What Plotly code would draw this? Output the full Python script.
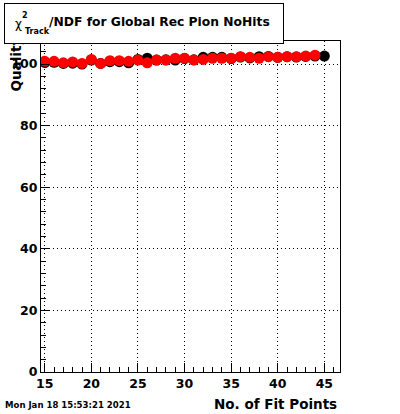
import plotly.graph_objects as go

# ---- data ----
x_black = list(range(15, 46))
y_black = [100.5, 100.6, 100.2, 100.3, 100.0, 101.3, 100.2, 100.8, 100.8, 100.4,
           101.5, 101.9, 101.3, 101.4, 101.3, 101.8, 101.4, 102.2, 102.2, 102.2,
           101.8, 102.3, 102.0, 102.4, 102.5, 102.2, 102.4, 102.3, 102.5, 102.6,
           102.6]
x_red = list(range(15, 45))
y_red = [100.9, 100.9, 100.4, 100.7, 100.2, 101.5, 100.2, 101.1, 101.1, 100.9,
         101.3, 100.4, 101.3, 101.3, 101.9, 101.9, 101.3, 101.5, 101.9, 101.9,
         101.9, 102.4, 102.2, 101.9, 102.4, 102.2, 102.4, 102.4, 102.6, 102.9]

title_main = "/NDF for Global Rec Pion NoHits"
x_title = "No. of Fit Points"
y_title = "Quality"
date_text = "Mon Jan 18 15:53:21 2021"

# ---- geometry helpers (pixel -> paper) ----
L, R, T, B = 41, 340, 41, 372
W, H = 400, 414


def px(x):
    return (x - L) / (R - L)


def py(y):
    return (B - y) / (B - T)


FONT = "DejaVu Sans"

fig = go.Figure()
fig.add_trace(go.Scatter(x=x_black, y=y_black, mode="markers",
                         marker=dict(color="black", size=11), showlegend=False))
fig.add_trace(go.Scatter(x=x_red, y=y_red, mode="markers",
                         marker=dict(color="#ff0000", size=11), showlegend=False))

axis_common = dict(
    showline=True, linecolor="black", linewidth=1, mirror=True,
    showgrid=True, gridcolor="black", griddash="1px,3px", gridwidth=1,
    ticks="inside", ticklen=9, tickcolor="black", tickwidth=1,
    zeroline=False,
    tickfont=dict(family=FONT, size=12.5, color="black", weight="bold"),
)

fig.update_xaxes(range=[14.6, 46.68], tick0=0, dtick=5,
                 minor=dict(dtick=1, tick0=0, ticks="inside", ticklen=5,
                            tickcolor="black", showgrid=False),
                 **axis_common)
fig.update_yaxes(range=[0, 107.5], tick0=0, dtick=20,
                 minor=dict(dtick=4, tick0=0, ticks="inside", ticklen=5,
                            tickcolor="black", showgrid=False),
                 **axis_common)

annotations = [
    # y axis title (partly hidden behind the title box)
    dict(text=y_title, x=px(15), y=py(94), xanchor="center", yanchor="bottom",
         textangle=-90, font=dict(family=FONT, size=13.5, color="black", weight="bold")),
    # title box
    dict(text=" ", x=px(4), y=py(3), xanchor="left", yanchor="top",
         width=278, height=39, bgcolor="white", bordercolor="black",
         borderwidth=1, borderpad=0, font=dict(size=4)),
    dict(text="χ", x=px(18.5), y=py(24), xanchor="center", yanchor="middle",
         font=dict(family=FONT, size=12, color="black")),
    dict(text="2", x=px(25), y=py(15.5), xanchor="center", yanchor="middle",
         font=dict(family=FONT, size=8, color="black", weight="bold")),
    dict(text="Track", x=px(23), y=py(31.5), xanchor="left", yanchor="middle",
         font=dict(family=FONT, size=8, color="black", weight="bold")),
    dict(text=title_main, x=px(47), y=py(22.5), xanchor="left", yanchor="middle",
         font=dict(family=FONT, size=12.3, color="black", weight="bold")),
    # x axis title
    dict(text=x_title, x=px(339), y=py(404.5), xanchor="right", yanchor="middle",
         font=dict(family=FONT, size=13.5, color="black", weight="bold")),
    # date stamp
    dict(text=date_text, x=px(3), y=py(404.5), xanchor="left", yanchor="middle",
         font=dict(family="DejaVu Sans Condensed, DejaVu Sans", size=9.5,
                   color="black", weight="bold")),
]
for a in annotations:
    a.update(xref="paper", yref="paper", showarrow=False)

fig.update_layout(
    width=W, height=H, autosize=False,
    margin=dict(l=L, r=W - R, t=T, b=H - B, pad=0),
    paper_bgcolor="white", plot_bgcolor="white",
    annotations=annotations,
)

fig.write_html("out.html",
               config={"displayModeBar": False},
               post_script="document.body.style.margin='0';"
                           "document.body.style.overflow='hidden';")
